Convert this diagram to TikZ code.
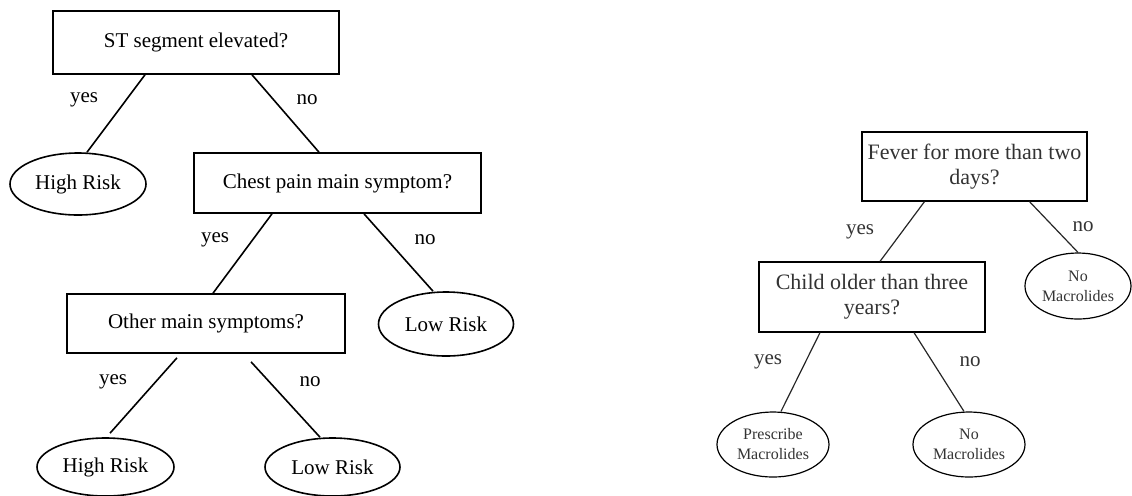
\documentclass[tikz,border=0pt]{standalone}
\usepackage{fontspec}
\setmainfont{Liberation Serif}
\usetikzlibrary{shapes.geometric,calc}
\tikzset{
  qbox/.style={draw, thick, rectangle, inner sep=0pt, font=\fontsize{10.5}{12.6}\selectfont},
  leaf/.style={draw, thick, ellipse, inner sep=0pt, font=\fontsize{10.5}{12.6}\selectfont},
  branch/.style={thick},
  lbl/.style={inner sep=0pt, font=\fontsize{10.5}{12.6}\selectfont},
  rbox/.style={draw, semithick, rectangle, inner sep=0pt, align=center,
    text=black!80, font=\fontsize{11}{12.5}\selectfont},
  rleaf/.style={draw, semithick, ellipse, inner sep=0pt, align=center,
    text=black!80, font=\fontsize{8}{10}\selectfont},
  rbranch/.style={semithick, black!85},
  rlbl/.style={inner sep=0pt, text=black!80, font=\fontsize{10.5}{12}\selectfont}
}
\begin{document}
\begin{tikzpicture}[x=0.5pt, y=-0.5pt]
  \useasboundingbox (0,0) rectangle (1132,495);
  % left tree
  \node[qbox, minimum width=143pt, minimum height=31.5pt] (st) at (196,42.5) {ST segment elevated?};
  \node[leaf, minimum width=68pt, minimum height=31pt] (hr1) at (78,184) {High Risk};
  \node[qbox, minimum width=143.5pt, minimum height=30pt] (cp) at (337.5,183) {Chest pain main symptom?};
  \node[qbox, minimum width=139pt, minimum height=29.5pt] (om) at (206,323.5) {Other main symptoms?};
  \node[leaf, minimum width=67.5pt, minimum height=32pt] (lr1) at (446,324) {Low Risk};
  \node[leaf, minimum width=68.5pt, minimum height=29pt] (hr2) at (105.5,467) {High Risk};
  \node[leaf, minimum width=67.5pt, minimum height=29pt] (lr2) at (332.5,467) {Low Risk};

  \draw[branch] ($(st.south)+(-51,0)$) -- ($(hr1.north)+(9,0)$);
  \draw[branch] ($(st.south)+(56,0)$) -- ($(cp.north)+(-18.5,0)$);
  \draw[branch] ($(cp.south)+(-65.5,0)$) -- ($(om.north)+(7,0)$);
  \draw[branch] ($(cp.south)+(26.5,0)$) -- ($(lr1.north)+(-13,0)$);
  \draw[branch] ($(om.south)+(-29,4)$) -- ($(hr2.north)+(4.5,-4)$);
  \draw[branch] ($(om.south)+(45,8)$) -- ($(lr2.north)+(-12.5,0)$);

  \node[lbl] (y1) at (84,100) {yes};
  \node[lbl] (n1) at (307,100) {no};
  \node[lbl] (y2) at (215,240) {yes};
  \node[lbl] (n2) at (425,240) {no};
  \node[lbl] (y3) at (113,382) {yes};
  \node[lbl] (n3) at (310,382) {no};

  % right tree
  \node[rbox, minimum width=112.5pt, minimum height=34.5pt] (fv) at (974.5,166.5) {Fever for more than two\\days?};
  \node[rbox, minimum width=113pt, minimum height=35pt] (ch) at (872,297) {Child older than three\\years?};
  \node[rleaf, minimum width=53pt, minimum height=33pt] (nm1) at (1078,286) {No\\Macrolides};
  \node[rleaf, minimum width=56pt, minimum height=32.5pt] (pm) at (773,444.5) {Prescribe\\Macrolides};
  \node[rleaf, minimum width=56pt, minimum height=32.5pt] (nm2) at (969,444.5) {No\\Macrolides};

  \draw[rbranch] ($(fv.south)+(-50,0)$) -- ($(ch.north)+(8,0)$);
  \draw[rbranch] ($(fv.south)+(55,0)$) -- ($(nm1.north)+(0,0)$);
  \draw[rbranch] ($(ch.south)+(-52,0)$) -- ($(pm.north)+(8,0)$);
  \draw[rbranch] ($(ch.south)+(42,0)$) -- ($(nm2.north)+(-5,0)$);

  \node[rlbl] (y4) at (860,232) {yes};
  \node[rlbl] (n4) at (1083,227) {no};
  \node[rlbl] (y5) at (768,362) {yes};
  \node[rlbl] (n5) at (970,362) {no};
\end{tikzpicture}
\end{document}
